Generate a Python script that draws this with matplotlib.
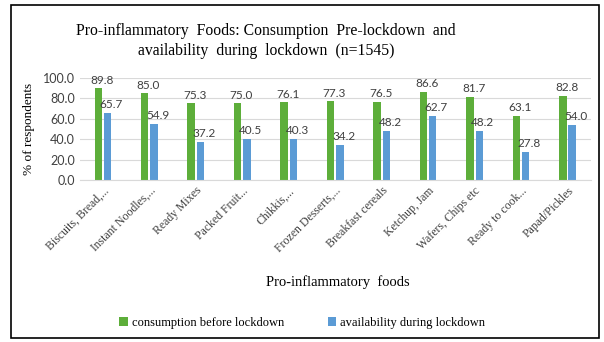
import numpy as np
import matplotlib.pyplot as plt
from matplotlib.patches import Rectangle

foods = ["Biscuits, Bread,...", "Instant Noodles,...", "Ready Mixes", "Packed Fruit...",
         "Chikkis,...", "Frozen Desserts,...", "Breakfast cereals", "Ketchup, Jam",
         "Wafers, Chips etc", "Ready to cook...", "Papad/Pickles"]
before = [89.8, 85.0, 75.3, 75.0, 76.1, 77.3, 76.5, 86.6, 81.7, 63.1, 82.8]
during = [65.7, 54.9, 37.2, 40.5, 40.3, 34.2, 48.2, 62.7, 48.2, 27.8, 54.0]

green = "#5DAE3A"
blue = "#5B9BD5"
serif = "Liberation Serif"
sans = "Lato"

fig = plt.figure(figsize=(6.04, 3.42), dpi=100)
ax = fig.add_axes([0.132, 0.474, 0.846, 0.298])

x = np.arange(len(foods))
w = 0.16
b1 = ax.bar(x - w / 2 - 0.02, before, w, color=green, label="consumption before lockdown")
b2 = ax.bar(x + w / 2 + 0.02, during, w, color=blue, label="availability during lockdown")

for bars, vals in ((b1, before), (b2, during)):
    for r, v in zip(bars, vals):
        ax.text(r.get_x() + r.get_width() / 2 + 0.08, v + 2.5, f"{v:.1f}",
                ha="center", va="bottom", fontsize=8.5, family=sans,
                color="#404040", clip_on=False)

ax.set_xlim(-0.5, len(foods) - 0.5)
ax.set_ylim(0, 100)
ax.set_yticks(np.arange(0, 101, 20))
ax.set_yticklabels([f"{t:.1f}" for t in range(0, 101, 20)], fontsize=9,
                   family=sans, color="#404040")
ax.yaxis.grid(True, color="#D9D9D9", linewidth=0.8)
ax.set_axisbelow(True)
ax.tick_params(length=0)
for s in ["top", "right", "left"]:
    ax.spines[s].set_visible(False)
ax.spines["bottom"].set_color("#D9D9D9")

ax.set_xticks(x)
ax.set_xticklabels(foods, rotation=45, ha="right", rotation_mode="anchor",
                   fontsize=8.5, family=serif, color="#404040")
for lab in ax.get_xticklabels():
    lab.set_x(lab.get_position()[0])

ax.set_ylabel("% of respondents", fontsize=9.5, family=serif, labelpad=6)
fig.text(0.56, 0.165, "Pro-inflammatory  foods", ha="center", fontsize=10.5, family=serif)
fig.text(0.44, 0.88, "Pro-inflammatory  Foods: Consumption  Pre-lockdown  and\n"
         "availability  during  lockdown  (n=1545)",
         ha="center", va="center", fontsize=11.3, family=serif, linespacing=1.35)

fig.legend(loc="center", bbox_to_anchor=(0.5, 0.055), ncol=2, frameon=False,
           prop={"family": serif, "size": 9}, handlelength=0.7, handleheight=0.7,
           columnspacing=3.5, handletextpad=0.3)

fig.patches.append(Rectangle((0.018, 0.012), 0.974, 0.973, transform=fig.transFigure,
                             fill=False, edgecolor="black", linewidth=1.2))

fig.savefig("out.png", dpi=100)
